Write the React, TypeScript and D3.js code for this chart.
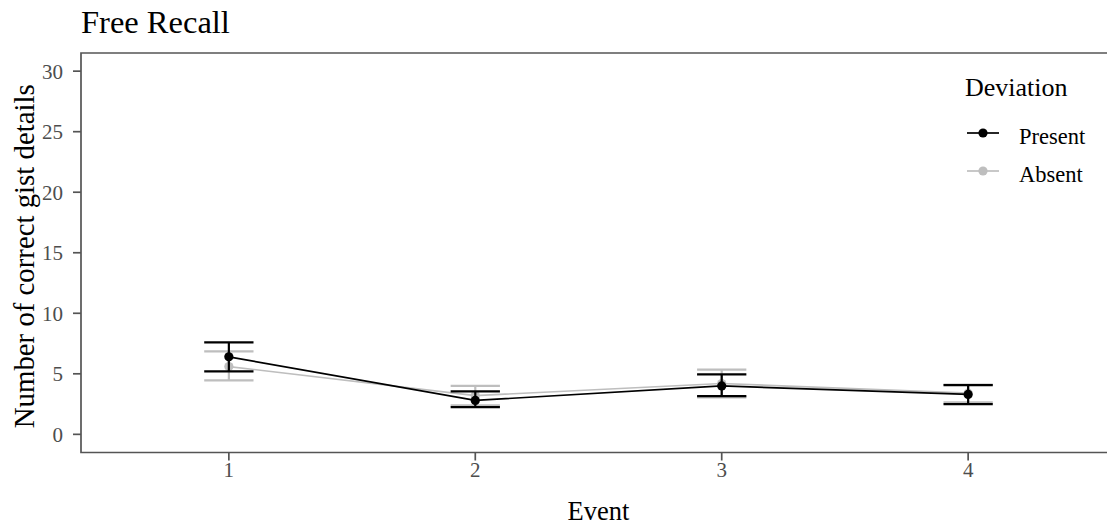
import React from 'react';
import * as d3 from 'd3';

const events = ['1', '2', '3', '4'];
const yTicks = [0, 5, 10, 15, 20, 25, 30];

const presentMean = [6.4, 2.8, 4.0, 3.3];
const presentLo = [5.2, 2.25, 3.15, 2.5];
const presentHi = [7.6, 3.55, 4.95, 4.06];

const absentMean = [5.6, 3.2, 4.2, 3.4];
const absentLo = [4.45, 2.4, 3.05, 2.65];
const absentHi = [6.85, 4.0, 5.35, 4.1];

const series = [
  { name: 'Absent', color: '#BEBEBE', mean: absentMean, lo: absentLo, hi: absentHi },
  { name: 'Present', color: '#000000', mean: presentMean, lo: presentLo, hi: presentHi },
];
const legendOrder = ['Present', 'Absent'];

const W = 1107;
const H = 527;
const left = 81;
const top = 53;
const right = 1116;
const bottom = 452.5;
const font = '"Liberation Serif", "Times New Roman", serif';

const App = () => {
  const x = d3.scalePoint<string>().domain(events).range([left, right]).padding(0.6);
  const y = d3.scaleLinear().domain([-1.5, 31.5]).range([bottom, top]);
  const barHalf = x.step() * 0.1;

  const line = d3.line<number>()
    .x((_, i) => x(events[i]) as number)
    .y(d => y(d));

  return (
    <svg width={W} height={H} style={{ position: 'absolute', left: 0, top: 0, background: '#fff' }}
      fontFamily={font}>
      <rect x={0} y={0} width={W} height={H} fill="#fff" />

      {/* title */}
      <text x={81} y={33} fontSize={32.5} fill="#000">Free Recall</text>

      {/* panel border (right side falls outside the window) */}
      <path d={`M${W + 5},${top}H${left}V${bottom}H${W + 5}`}
        fill="none" stroke="#555" strokeWidth={1.7} />

      {/* y axis */}
      {yTicks.map(t => (
        <g key={t}>
          <line x1={left - 8} x2={left} y1={y(t)} y2={y(t)} stroke="#555" strokeWidth={1.7} />
          <text x={left - 18} y={y(t)} dy="0.35em" textAnchor="end" fontSize={21} fill="#4D4D4D">{t}</text>
        </g>
      ))}
      <text transform={`translate(34,${(top + bottom) / 2 + 3.5}) rotate(-90)`} textAnchor="middle"
        fontSize={28.8} fill="#000">Number of correct gist details</text>

      {/* x axis */}
      {events.map(e => (
        <g key={e}>
          <line x1={x(e)} x2={x(e)} y1={bottom} y2={bottom + 8} stroke="#555" strokeWidth={1.7} />
          <text x={x(e)} y={bottom + 24} textAnchor="middle" fontSize={21} fill="#4D4D4D">{e}</text>
        </g>
      ))}
      <text x={(left + right) / 2} y={520} textAnchor="middle" fontSize={26.5} fill="#000">Event</text>

      {/* data */}
      {series.map(s => (
        <g key={s.name}>
          {events.map((e, i) => (
            <g key={e} stroke={s.color} strokeWidth={2.2}>
              <line x1={x(e)} x2={x(e)} y1={y(s.lo[i])} y2={y(s.hi[i])} />
              <line x1={(x(e) as number) - barHalf} x2={(x(e) as number) + barHalf} y1={y(s.lo[i])} y2={y(s.lo[i])} />
              <line x1={(x(e) as number) - barHalf} x2={(x(e) as number) + barHalf} y1={y(s.hi[i])} y2={y(s.hi[i])} />
            </g>
          ))}
          <path d={line(s.mean) || ''} fill="none" stroke={s.color} strokeWidth={1.7} />
          {events.map((e, i) => (
            <circle key={e} cx={x(e)} cy={y(s.mean[i])} r={4.6} fill={s.color} />
          ))}
        </g>
      ))}

      {/* legend */}
      <text x={965} y={96} fontSize={26} fill="#000">Deviation</text>
      {legendOrder.map((name, i) => {
        const s = series.find(d => d.name === name)!;
        const cy = 133 + i * 38;
        return (
          <g key={name}>
            <line x1={967} x2={999} y1={cy} y2={cy} stroke={s.color} strokeWidth={1.7} />
            <circle cx={983} cy={cy} r={4.6} fill={s.color} />
            <text x={1019} y={cy + 11} fontSize={22.5} fill="#000">{name}</text>
          </g>
        );
      })}
    </svg>
  );
};

export default App;
